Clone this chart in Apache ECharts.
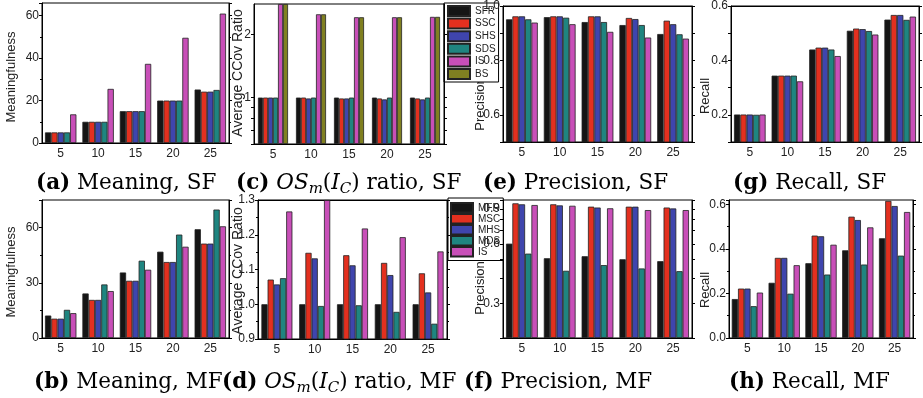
<!DOCTYPE html>
<html>
<head>
<meta charset="utf-8">
<title>Summary comparison, SF and MF</title>
<script src="https://cdn.jsdelivr.net/npm/echarts@6/dist/echarts.min.js"></script>
<style>
  html, body { margin: 0; padding: 0; background: #fff; }
  #chart { width: 923px; height: 398px; }
</style>
</head>
<body>
<div id="chart"></div>
<script>
  const groups = ['5', '10', '15', '20', '25']
  const sfNames = ['SFR', 'SSC', 'SHS', 'SDS', 'IS', 'BS']
  const mfNames = ['MFR', 'MSC', 'MHS', 'MDS', 'IS']

  // (a) meaningfulness, SF  -- rows follow sfNames
  const meaningSF = [
    [5, 10, 15, 20, 25.2],
    [5, 10, 15, 20, 24.2],
    [5, 10, 15, 20, 24.2],
    [5, 10, 15, 20, 25],
    [13.5, 25.5, 37.3, 49.6, 61]
  ]
  // (b) meaningfulness, MF  -- rows follow mfNames
  const meaningMF = [
    [12.2, 24.2, 35.6, 46.9, 59.1],
    [10.5, 20.7, 31.1, 41.3, 51.3],
    [10.5, 20.7, 31.1, 41.3, 51.3],
    [15.3, 29.1, 42, 56.2, 69.8],
    [13.5, 25.5, 37.1, 49.6, 60.7]
  ]
  // (c) average CCov ratio, SF (log axis)
  const ratioSF = [
    [1, 1, 1, 1, 1],
    [1, 1, 0.99, 0.99, 0.99],
    [1, 0.99, 0.99, 0.98, 0.98],
    [1, 1, 1, 1, 1],
    [2.8, 2.5, 2.42, 2.42, 2.43],
    [2.8, 2.5, 2.42, 2.42, 2.43]
  ]
  // (d) average CCov ratio, MF
  const ratioMF = [
    [1, 1, 1, 1, 1],
    [1.071, 1.148, 1.141, 1.119, 1.089],
    [1.057, 1.132, 1.112, 1.084, 1.034],
    [1.075, 0.995, 0.997, 0.978, 0.944],
    [1.267, 1.3, 1.218, 1.193, 1.152]
  ]
  // (e) precision, SF
  const precisionSF = [
    [0.951, 0.959, 0.941, 0.930, 0.897],
    [0.962, 0.962, 0.962, 0.956, 0.946],
    [0.962, 0.962, 0.962, 0.952, 0.933],
    [0.951, 0.957, 0.941, 0.930, 0.896],
    [0.939, 0.933, 0.905, 0.884, 0.880]
  ]
  // (f) precision, MF (log axis)
  const precisionMF = [
    [0.601, 0.507, 0.519, 0.501, 0.49],
    [0.962, 0.951, 0.925, 0.925, 0.916],
    [0.951, 0.939, 0.916, 0.925, 0.906],
    [0.535, 0.438, 0.468, 0.450, 0.436],
    [0.943, 0.935, 0.908, 0.889, 0.889]
  ]
  // (g) recall, SF
  const recallSF = [
    [0.201, 0.344, 0.44, 0.509, 0.55],
    [0.201, 0.344, 0.447, 0.517, 0.567],
    [0.201, 0.344, 0.447, 0.515, 0.567],
    [0.2, 0.344, 0.44, 0.508, 0.549],
    [0.201, 0.323, 0.416, 0.495, 0.561]
  ]
  // (h) recall, MF
  const recallMF = [
    [0.175, 0.248, 0.336, 0.394, 0.448],
    [0.222, 0.36, 0.46, 0.545, 0.616],
    [0.222, 0.36, 0.457, 0.53, 0.593],
    [0.143, 0.199, 0.285, 0.33, 0.37],
    [0.204, 0.327, 0.419, 0.497, 0.566]
  ]

  const colors = ['#151515', '#e3301f', '#3f45ad', '#1f8580', '#c84fb8', '#808021']
  const SANS = 'Liberation Sans'
  const SERIF = 'DejaVu Serif'
  const CAP = 21.5

  const evenTenths = v => (Math.round(v * 10) % 2 === 0 ? v.toFixed(1) : '')
  const oneDecimal = v => v.toFixed(1)

  const panels = [
    { grid: [42, 3, 187, 140], names: sfNames, data: meaningSF, gap: '16%',
      y: { min: 0, max: 66, interval: 20, minor: 2, hideMax: true },
      yName: 'Meaningfulness', yNamePos: [11, 77], yNameSize: 13,
      caption: '{b|(a)} Meaning, SF', capPos: [36, 183] },
    { grid: [42, 200, 187, 138], names: mfNames, data: meaningMF, gap: '16%',
      y: { min: 0, max: 75, interval: 30, minor: 2, hideMax: true },
      yName: 'Meaningfulness', yNamePos: [11, 272], yNameSize: 13,
      caption: '{b|(b)} Meaning, MF', capPos: [34, 382] },
    { grid: [254, 4, 190, 140], names: sfNames, data: ratioSF, gap: '21%',
      log: { min: 0.6, max: 2.8, labels: [1, 2], ticks: [0.6, 0.7, 0.8, 0.9, 1, 2], fmt: v => String(Math.round(v)) },
      yName: 'Average CCov Ratio', yNamePos: [238, 73], yNameSize: 14,
      caption: '{b|(c)} {i|OS}{s|m}({i|I}{s|C}) ratio, SF', capPos: [236, 183] },
    { grid: [258, 200, 189, 139], names: mfNames, data: ratioMF, gap: '18%',
      y: { min: 0.9, max: 1.3, interval: 0.1, minor: 2, fmt: oneDecimal },
      yName: 'Average CCov Ratio', yNamePos: [238, 271], yNameSize: 14,
      caption: '{b|(d)} {i|OS}{s|m}({i|I}{s|C}) ratio, MF', capPos: [222, 382] },
    { grid: [503, 3, 189, 139], names: sfNames, data: precisionSF, gap: '16%',
      y: { min: 0.5, max: 1, interval: 0.1, fmt: evenTenths },
      yName: 'Precision', yNamePos: [480, 104], yNameSize: 13,
      caption: '{b|(e)} Precision, SF', capPos: [483, 183] },
    { grid: [503, 200, 189, 138], names: mfNames, data: precisionMF, gap: '16%',
      log: { min: 0.2, max: 1, labels: [0.3, 0.6, 0.9], ticks: [0.2, 0.3, 0.4, 0.5, 0.6, 0.7, 0.8, 0.9, 1], fmt: oneDecimal },
      yName: 'Precision', yNamePos: [480, 288], yNameSize: 13,
      caption: '{b|(f)} Precision, MF', capPos: [464, 382] },
    { grid: [731, 3, 188, 139], names: sfNames, data: recallSF, gap: '16%',
      y: { min: 0.1, max: 0.6, interval: 0.1, fmt: evenTenths },
      yName: 'Recall', yNamePos: [705, 96], yNameSize: 13,
      caption: '{b|(g)} Recall, SF', capPos: [733, 183] },
    { grid: [729, 200, 184, 138], names: mfNames, data: recallMF, gap: '15%',
      y: { min: 0, max: 0.62, interval: 0.2, minor: 2, fmt: oneDecimal, hideMax: true },
      yName: 'Recall', yNamePos: [705, 290], yNameSize: 13,
      caption: '{b|(h)} Recall, MF', capPos: [729, 382] }
  ]

  const lg = v => Math.log10(v)

  // left axis carries labels; the right one only repeats the ticks (Origin-style frame)
  function buildYAxis(p, i, right) {
    const axis = {
      type: 'value',
      gridIndex: i,
      position: right ? 'right' : 'left',
      z: 6,
      axisLine: { show: true, lineStyle: { color: '#000' } },
      axisTick: { show: true, length: 3, lineStyle: { color: '#000' } },
      splitLine: { show: false },
      axisLabel: { show: !right, color: '#222', fontSize: 12, fontFamily: SANS, margin: 3 }
    }
    if (p.log) {
      // log scale: values drawn as log10(v / min) so bars rise from the bottom
      const base = p.log.min
      axis.min = 0
      axis.max = lg(p.log.max / base)
      axis.axisLabel.customValues = p.log.labels.map(v => lg(v / base))
      axis.axisLabel.formatter = v => p.log.fmt(base * Math.pow(10, v))
      axis.axisTick.customValues = p.log.ticks.map(v => lg(v / base))
    } else {
      axis.min = p.y.min
      axis.max = p.y.max
      axis.interval = p.y.interval
      axis.axisLabel.showMaxLabel = !p.y.hideMax
      if (p.y.fmt) axis.axisLabel.formatter = p.y.fmt
      if (p.y.minor) axis.minorTick = { show: true, splitNumber: p.y.minor, length: 2, lineStyle: { color: '#000' } }
    }
    return axis
  }

  function buildXAxis(i, top) {
    return {
      type: 'category',
      gridIndex: i,
      position: top ? 'top' : 'bottom',
      data: groups,
      axisLine: { lineStyle: { color: '#000' } },
      axisTick: { length: 3, lineStyle: { color: '#000' } },
      axisLabel: { show: !top, color: '#222', fontSize: 12, fontFamily: SANS, margin: 5 }
    }
  }

  const grids = []
  const xAxes = []
  const yAxes = []
  const series = []
  const graphics = []

  panels.forEach((p, i) => {
    grids.push({
      left: p.grid[0], top: p.grid[1], width: p.grid[2], height: p.grid[3],
      show: true, borderColor: '#000', borderWidth: 1, backgroundColor: 'transparent'
    })
    xAxes.push(buildXAxis(i, false))
    yAxes.push(buildYAxis(p, i, false))
    p.data.forEach((row, k) => {
      const ci = p.names[k] === 'IS' ? 4 : k
      series.push({
        type: 'bar',
        name: p.names[k],
        xAxisIndex: i,
        yAxisIndex: i,
        data: p.log ? row.map(v => lg(v / p.log.min)) : row,
        barGap: '0%',
        barCategoryGap: p.gap,
        itemStyle: { color: colors[ci], borderColor: '#222', borderWidth: 0.8 },
        silent: true
      })
    })
    graphics.push({
      type: 'text',
      x: p.yNamePos[0],
      y: p.yNamePos[1],
      rotation: Math.PI / 2,
      style: {
        text: p.yName, fontSize: p.yNameSize, fontFamily: SANS, fill: '#222',
        align: 'center', verticalAlign: 'middle'
      }
    })
    graphics.push({
      type: 'text',
      x: p.capPos[0],
      y: p.capPos[1],
      style: {
        text: p.caption, fontSize: CAP, fontFamily: SERIF, lineHeight: 28, fill: '#000',
        align: 'left', verticalAlign: 'middle',
        rich: {
          b: { fontSize: CAP, fontFamily: SERIF, fontWeight: 'bold', lineHeight: 28 },
          i: { fontSize: CAP, fontFamily: SERIF, fontStyle: 'italic', lineHeight: 28 },
          s: { fontSize: 15, fontFamily: SERIF, fontStyle: 'italic', lineHeight: 16, verticalAlign: 'bottom' }
        }
      }
    })
  })
  // frame axes (top and right) come after the main ones so indices 0..7 stay with the series
  panels.forEach((p, i) => {
    xAxes.push(buildXAxis(i, true))
    yAxes.push(buildYAxis(p, i, true))
  })

  const legendBase = {
    orient: 'vertical',
    icon: 'rect',
    itemWidth: 22,
    itemHeight: 10,
    selectedMode: false,
    backgroundColor: '#fff',
    borderColor: '#000',
    borderWidth: 1,
    borderRadius: 0,
    textStyle: { fontSize: 10, fontFamily: SANS, color: '#222' },
    z: 5
  }

  const chart = echarts.init(document.getElementById('chart'))
  chart.setOption({
    animation: false,
    grid: grids,
    xAxis: xAxes,
    yAxis: yAxes,
    legend: [
      Object.assign({}, legendBase, {
        left: 444, top: 3, itemGap: 0.6, padding: [2, 3, 2, 3],
        data: sfNames
      }),
      Object.assign({}, legendBase, {
        left: 448, top: 198, itemHeight: 9.5, itemGap: -0.5, padding: [4, 3, 3, 2],
        data: mfNames
      })
    ],
    graphic: graphics,
    series: series
  })
</script>
</body>
</html>
